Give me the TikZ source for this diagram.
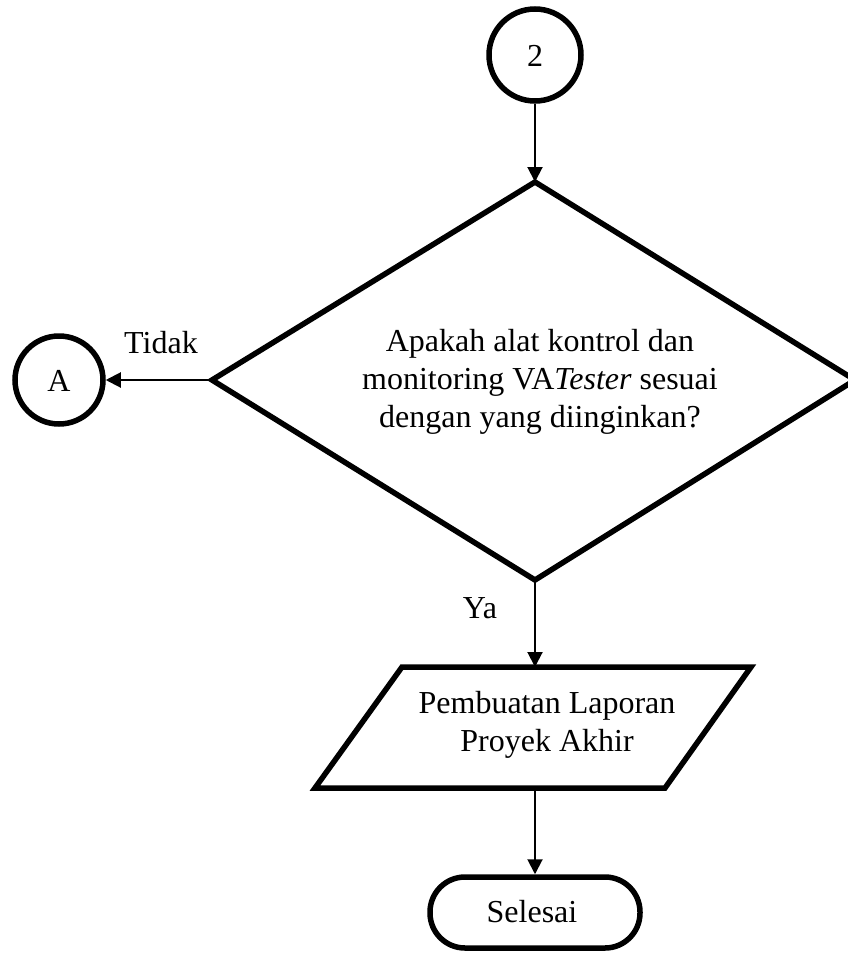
\documentclass[tikz,border=0pt]{standalone}
\usepackage{fontspec}
\setmainfont{Liberation Serif}
\usetikzlibrary{arrows.meta}
\begin{document}
\begin{tikzpicture}[x=1pt,y=-1pt,
  shapeline/.style={line width=5.5pt,line join=miter},
  conn/.style={line width=2pt,-{Triangle[length=15pt,width=15pt]}},
  txt/.style={font=\fontsize{32}{38}\selectfont,inner sep=0pt,align=center},
  connector/.style={circle,draw,line width=5.5pt,minimum size=88pt,inner sep=0pt},
  terminal/.style={draw,line width=5.5pt,rounded corners=35pt,minimum width=210pt,minimum height=71pt,inner sep=0pt}]
\useasboundingbox (0,0) rectangle (848,953);
% start connector
\node[connector,minimum size=92pt] (c2) at (535,55) {};
\node[txt,anchor=base] at (535,66) {2};
% decision
\coordinate (dT) at (535,182);
\coordinate (dL) at (212,380);
\coordinate (dR) at (855,380);
\coordinate (dB) at (535,580);
\draw[shapeline] (dT) -- (dR) -- (dB) -- (dL) -- cycle;
\node[txt] (dtext) at (540,382) {Apakah alat kontrol dan\\monitoring VA\textit{Tester} sesuai\\dengan yang diinginkan?};
% connector A
\node[connector,minimum size=88pt] (cA) at (59,380) {};
\node[txt,anchor=base] at (59,391) {A};
% input/output
\coordinate (pTL) at (402,667);
\coordinate (pTR) at (751,667);
\coordinate (pBR) at (665,788);
\coordinate (pBL) at (315,788);
\coordinate (pT) at (535,667);
\coordinate (pB) at (535,788);
\draw[shapeline] (pTL) -- (pTR) -- (pBR) -- (pBL) -- cycle;
\node[txt] (ptext) at (547,725) {Pembuatan Laporan\\Proyek Akhir};
% terminal
\node[terminal] (end) at (535,912.5) {};
\node[txt,anchor=base] at (532,922) {Selesai};
% connectors
\draw[conn] (c2) -- (dT);
\draw[conn] (dL) -- (cA);
\draw[conn] (dB) -- (pT);
\draw[conn] (pB) -- (end);
% labels
\node[txt,anchor=base] (tidak) at (161,353) {Tidak};
\node[txt,anchor=base] (ya) at (480,618) {Ya};
\end{tikzpicture}
\end{document}
